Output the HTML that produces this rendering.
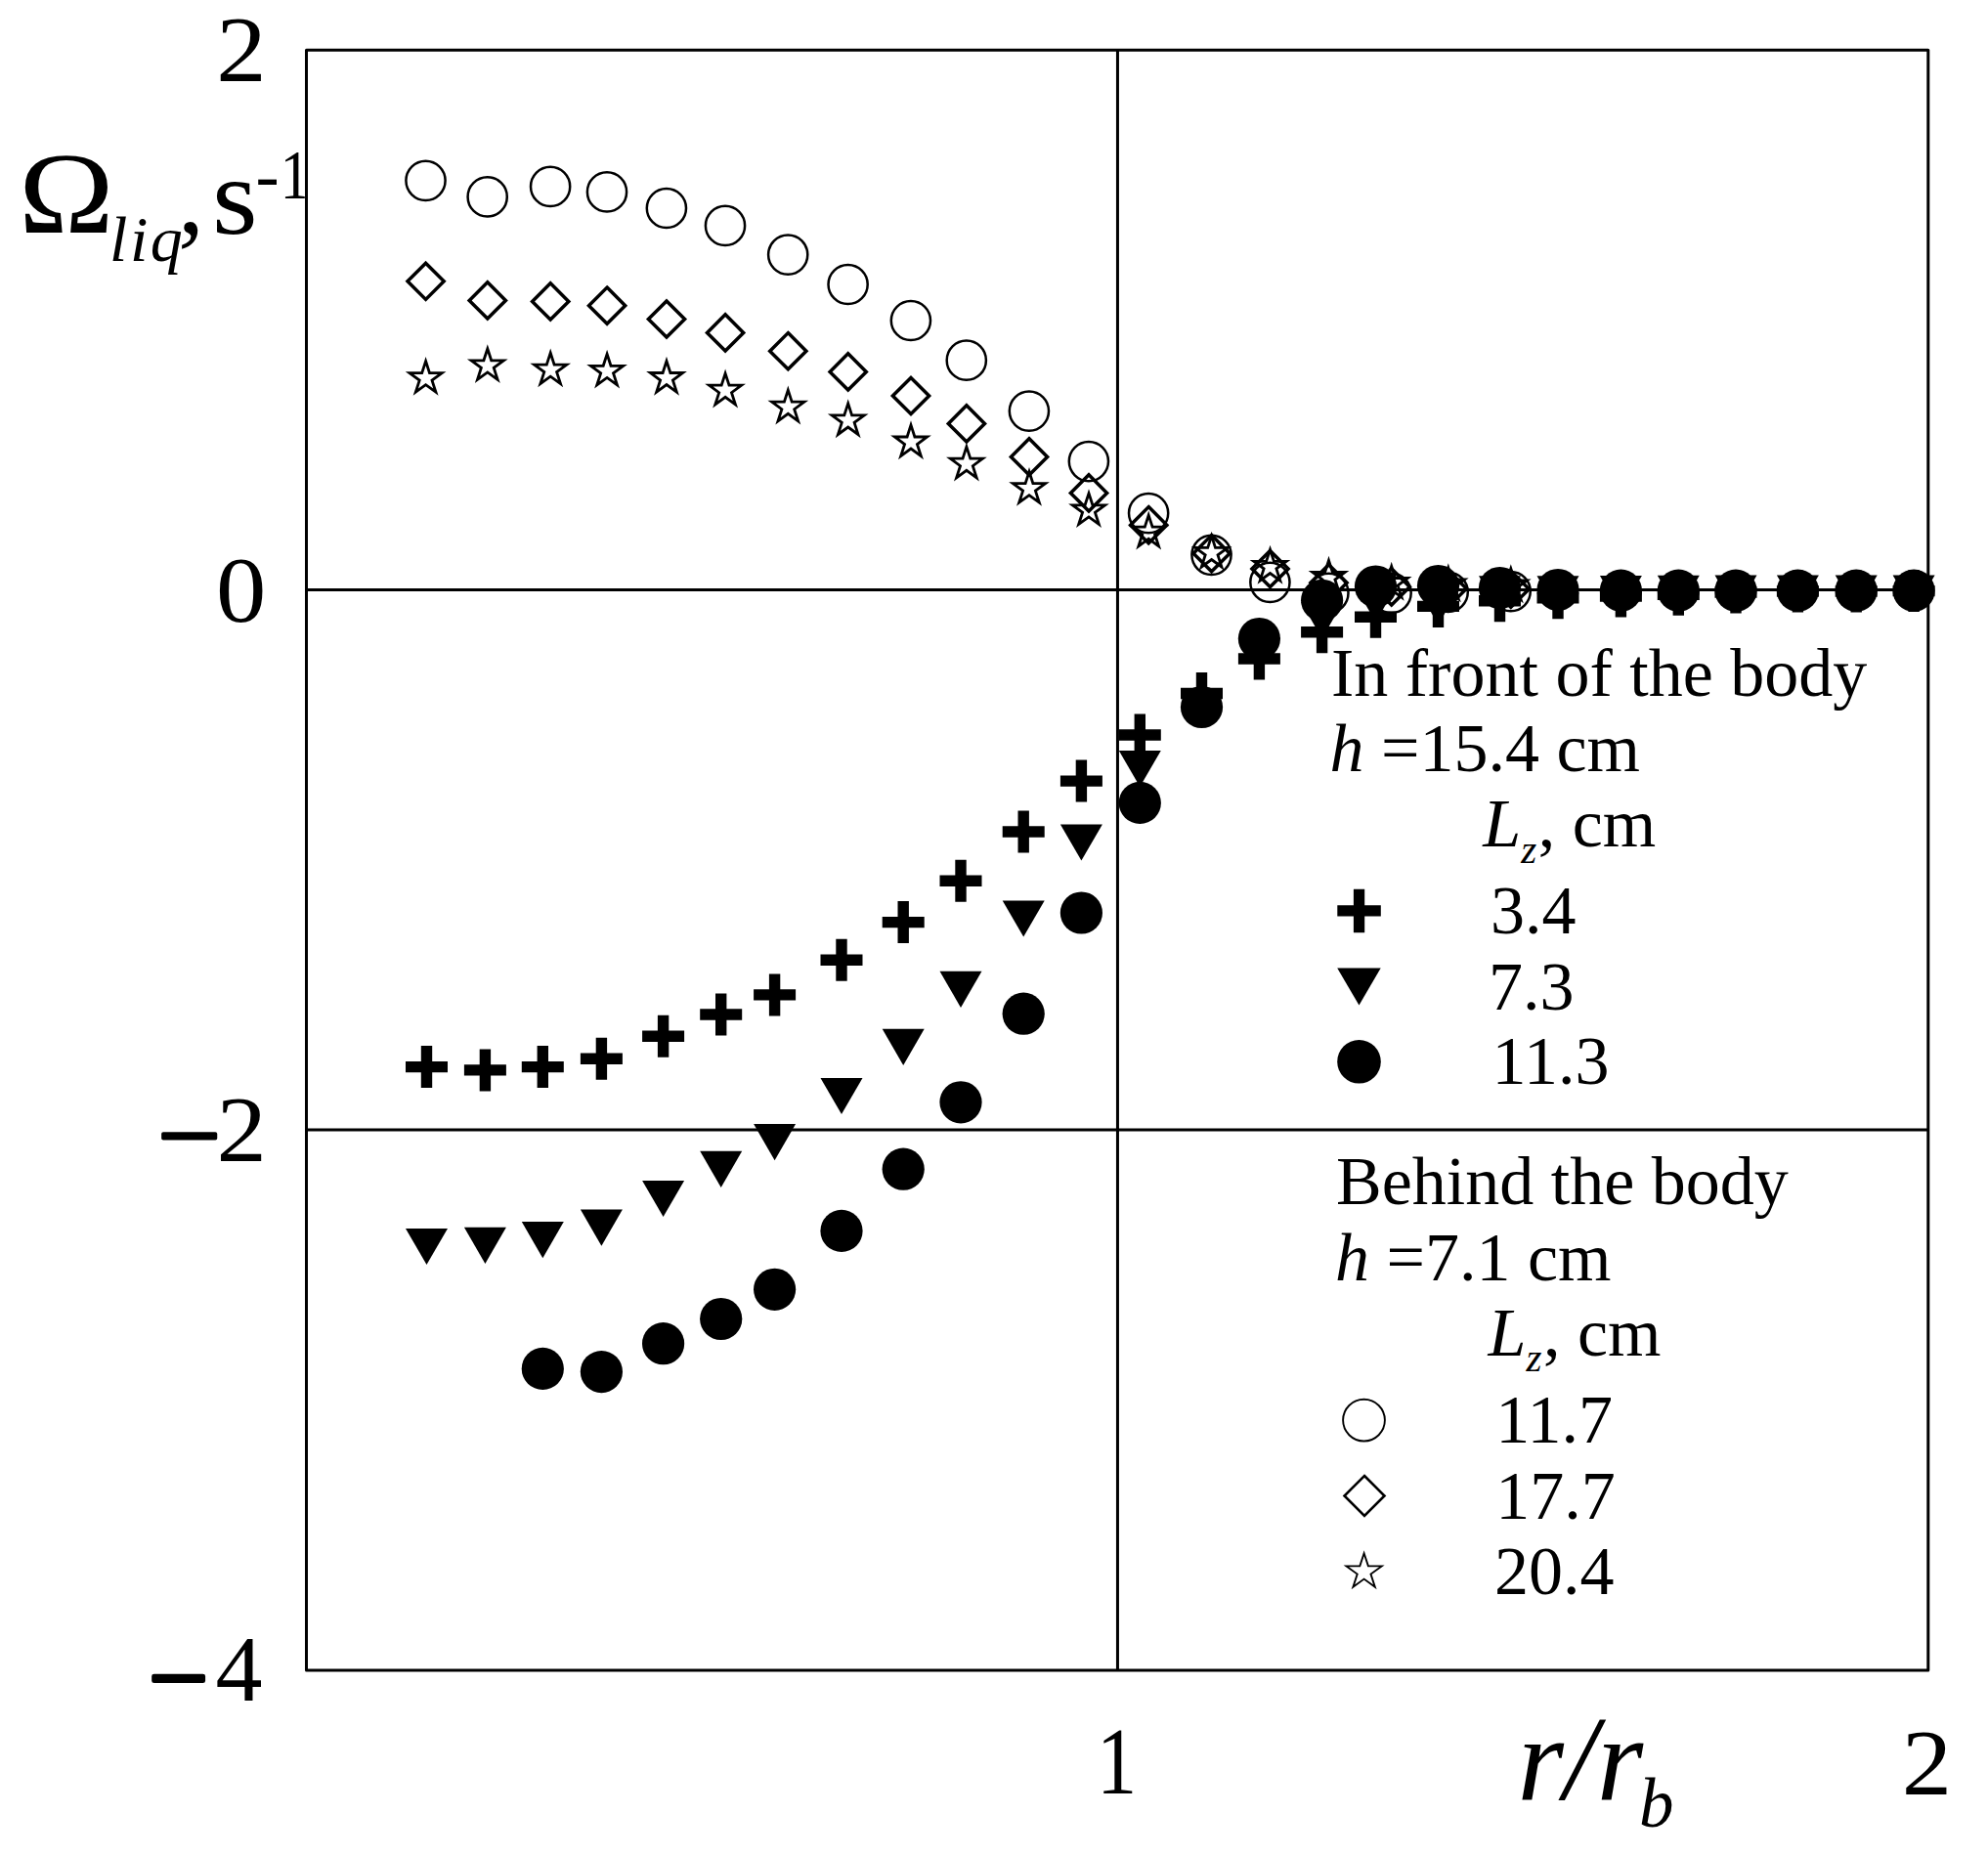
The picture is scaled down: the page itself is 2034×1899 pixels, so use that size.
<!DOCTYPE html>
<html><head><meta charset="utf-8"><title>Angular velocity of liquid</title>
<style>
html,body{margin:0;padding:0;background:#fff}
svg{display:block}
text{font-family:"Liberation Serif",serif;fill:#000}
.i{font-style:italic}
</style></head><body>
<svg width="2034" height="1899" viewBox="0 0 2034 1899">
<rect width="2034" height="1899" fill="#fff"/>

<g fill="none" stroke="#000" stroke-width="3.0" stroke-linejoin="round">
<rect x="313.5" y="51.3" width="1659.3" height="1657.7"/>
<path d="M1143.45 51.3V1709.0M313.5 603.6H1972.8M313.5 1156.0H1972.8"/>
</g>
<g fill="none" stroke="#000" stroke-width="2.5">
<circle cx="435.5" cy="184.8" r="20.1"/>
<circle cx="498.7" cy="201.4" r="20.1"/>
<circle cx="563.1" cy="190.9" r="20.1"/>
<circle cx="621.0" cy="196.4" r="20.1"/>
<circle cx="681.9" cy="213.0" r="20.1"/>
<circle cx="742.0" cy="230.9" r="20.1"/>
<circle cx="806.2" cy="260.6" r="20.1"/>
<circle cx="867.6" cy="291.0" r="20.1"/>
<circle cx="931.9" cy="328.0" r="20.1"/>
<circle cx="988.8" cy="368.7" r="20.1"/>
<circle cx="1052.9" cy="420.6" r="20.1"/>
<circle cx="1113.9" cy="472.1" r="20.1"/>
<circle cx="1175.1" cy="525.1" r="20.1"/>
<circle cx="1239.5" cy="567.8" r="20.1"/>
<circle cx="1299.4" cy="595.8" r="20.1"/>
<circle cx="1359.4" cy="606.8" r="20.1"/>
<circle cx="1423.6" cy="606.8" r="20.1"/>
<circle cx="1481.7" cy="605.8" r="20.1"/>
<circle cx="1545.7" cy="605.1" r="20.1"/>
</g>
<g fill="none" stroke="#000" stroke-width="3.5" stroke-linejoin="miter">
<path d="M435.6 269.2L454.2 287.8L435.6 306.4L417.0 287.8z"/>
<path d="M498.8 288.8L517.4 307.4L498.8 326.0L480.2 307.4z"/>
<path d="M563.2 289.8L581.8 308.4L563.2 327.0L544.6 308.4z"/>
<path d="M621.1 294.1L639.7 312.7L621.1 331.3L602.5 312.7z"/>
<path d="M682.0 307.9L700.6 326.5L682.0 345.1L663.4 326.5z"/>
<path d="M742.1 321.8L760.7 340.4L742.1 359.0L723.5 340.4z"/>
<path d="M806.3 340.6L824.9 359.2L806.3 377.8L787.7 359.2z"/>
<path d="M867.7 361.8L886.3 380.4L867.7 399.0L849.1 380.4z"/>
<path d="M932.0 386.4L950.6 405.0L932.0 423.6L913.4 405.0z"/>
<path d="M988.9 414.8L1007.5 433.4L988.9 452.0L970.3 433.4z"/>
<path d="M1053.0 448.8L1071.6 467.4L1053.0 486.0L1034.4 467.4z"/>
<path d="M1114.0 485.8L1132.6 504.4L1114.0 523.0L1095.4 504.4z"/>
<path d="M1175.2 518.6L1193.8 537.2L1175.2 555.8L1156.6 537.2z"/>
<path d="M1239.6 547.6L1258.2 566.2L1239.6 584.8L1221.0 566.2z"/>
<path d="M1299.5 563.4L1318.1 582.0L1299.5 600.6L1280.9 582.0z"/>
<path d="M1359.5 577.7L1378.1 596.3L1359.5 614.9L1340.9 596.3z"/>
<path d="M1423.7 581.8L1442.3 600.4L1423.7 619.0L1405.1 600.4z"/>
<path d="M1481.8 583.7L1500.4 602.3L1481.8 620.9L1463.2 602.3z"/>
<path d="M1545.8 584.2L1564.4 602.8L1545.8 621.4L1527.2 602.8z"/>
</g>
<g fill="none" stroke="#000" stroke-width="2.8" stroke-linejoin="miter" stroke-miterlimit="10">
<path d="M435.6 369.5L439.5 381.6L452.2 381.6L442.0 389.1L445.9 401.2L435.6 393.7L425.3 401.2L429.2 389.1L419.0 381.6L431.7 381.6z"/>
<path d="M498.8 356.7L502.7 368.8L515.4 368.8L505.2 376.3L509.1 388.4L498.8 380.9L488.5 388.4L492.4 376.3L482.2 368.8L494.9 368.8z"/>
<path d="M563.2 361.0L567.1 373.1L579.8 373.1L569.6 380.6L573.5 392.7L563.2 385.2L552.9 392.7L556.8 380.6L546.6 373.1L559.3 373.1z"/>
<path d="M621.1 362.2L625.0 374.3L637.7 374.3L627.5 381.8L631.4 393.9L621.1 386.4L610.8 393.9L614.7 381.8L604.5 374.3L617.2 374.3z"/>
<path d="M682.0 369.4L685.9 381.5L698.6 381.5L688.4 389.0L692.3 401.1L682.0 393.6L671.7 401.1L675.6 389.0L665.4 381.5L678.1 381.5z"/>
<path d="M742.1 382.1L746.0 394.2L758.7 394.2L748.5 401.7L752.4 413.8L742.1 406.3L731.8 413.8L735.7 401.7L725.5 394.2L738.2 394.2z"/>
<path d="M806.3 399.1L810.2 411.2L822.9 411.2L812.7 418.7L816.6 430.8L806.3 423.3L796.0 430.8L799.9 418.7L789.7 411.2L802.4 411.2z"/>
<path d="M867.7 412.8L871.6 424.9L884.3 424.9L874.1 432.4L878.0 444.5L867.7 437.0L857.4 444.5L861.3 432.4L851.1 424.9L863.8 424.9z"/>
<path d="M932.0 434.9L935.9 447.0L948.6 447.0L938.4 454.5L942.3 466.6L932.0 459.1L921.7 466.6L925.6 454.5L915.4 447.0L928.1 447.0z"/>
<path d="M988.9 457.1L992.8 469.2L1005.5 469.2L995.3 476.7L999.2 488.8L988.9 481.3L978.6 488.8L982.5 476.7L972.3 469.2L985.0 469.2z"/>
<path d="M1053.0 482.5L1056.9 494.6L1069.6 494.6L1059.4 502.1L1063.3 514.2L1053.0 506.7L1042.7 514.2L1046.6 502.1L1036.4 494.6L1049.1 494.6z"/>
<path d="M1114.0 504.7L1117.9 516.8L1130.6 516.8L1120.4 524.3L1124.3 536.4L1114.0 528.9L1103.7 536.4L1107.6 524.3L1097.4 516.8L1110.1 516.8z"/>
<path d="M1175.2 527.1L1179.1 539.2L1191.8 539.2L1181.6 546.7L1185.5 558.8L1175.2 551.3L1164.9 558.8L1168.8 546.7L1158.6 539.2L1171.3 539.2z"/>
<path d="M1239.6 548.3L1243.5 560.4L1256.2 560.4L1246.0 567.9L1249.9 580.0L1239.6 572.5L1229.3 580.0L1233.2 567.9L1223.0 560.4L1235.7 560.4z"/>
<path d="M1299.5 562.3L1303.4 574.4L1316.1 574.4L1305.9 581.9L1309.8 594.0L1299.5 586.5L1289.2 594.0L1293.1 581.9L1282.9 574.4L1295.6 574.4z"/>
<path d="M1359.5 573.4L1363.4 585.5L1376.1 585.5L1365.9 593.0L1369.8 605.1L1359.5 597.6L1349.2 605.1L1353.1 593.0L1342.9 585.5L1355.6 585.5z"/>
<path d="M1423.7 579.4L1427.6 591.5L1440.3 591.5L1430.1 599.0L1434.0 611.1L1423.7 603.6L1413.4 611.1L1417.3 599.0L1407.1 591.5L1419.8 591.5z"/>
<path d="M1481.8 580.9L1485.7 593.0L1498.4 593.0L1488.2 600.5L1492.1 612.6L1481.8 605.1L1471.5 612.6L1475.4 600.5L1465.2 593.0L1477.9 593.0z"/>
<path d="M1545.8 581.8L1549.7 593.9L1562.4 593.9L1552.2 601.4L1556.1 613.5L1545.8 606.0L1535.5 613.5L1539.4 601.4L1529.2 593.9L1541.9 593.9z"/>
</g>
<g fill="#000" stroke="none">
<path d="M430.8 1070.1h11.4v15.8h15.8v11.4h-15.8v15.8h-11.4v-15.8h-15.8v-11.4h15.8z"/>
<path d="M490.7 1073.4h11.4v15.8h15.8v11.4h-15.8v15.8h-11.4v-15.8h-15.8v-11.4h15.8z"/>
<path d="M549.6 1070.1h11.4v15.8h15.8v11.4h-15.8v15.8h-11.4v-15.8h-15.8v-11.4h15.8z"/>
<path d="M609.7 1061.8h11.4v15.8h15.8v11.4h-15.8v15.8h-11.4v-15.8h-15.8v-11.4h15.8z"/>
<path d="M672.9 1038.7h11.4v15.8h15.8v11.4h-15.8v15.8h-11.4v-15.8h-15.8v-11.4h15.8z"/>
<path d="M732.0 1016.5h11.4v15.8h15.8v11.4h-15.8v15.8h-11.4v-15.8h-15.8v-11.4h15.8z"/>
<path d="M786.9 996.4h11.4v15.8h15.8v11.4h-15.8v15.8h-11.4v-15.8h-15.8v-11.4h15.8z"/>
<path d="M855.3 960.7h11.4v15.8h15.8v11.4h-15.8v15.8h-11.4v-15.8h-15.8v-11.4h15.8z"/>
<path d="M918.5 922.1h11.4v15.8h15.8v11.4h-15.8v15.8h-11.4v-15.8h-15.8v-11.4h15.8z"/>
<path d="M977.3 879.8h11.4v15.8h15.8v11.4h-15.8v15.8h-11.4v-15.8h-15.8v-11.4h15.8z"/>
<path d="M1041.5 829.5h11.4v15.8h15.8v11.4h-15.8v15.8h-11.4v-15.8h-15.8v-11.4h15.8z"/>
<path d="M1100.7 777.6h11.4v15.8h15.8v11.4h-15.8v15.8h-11.4v-15.8h-15.8v-11.4h15.8z"/>
<path d="M1160.6 730.5h11.4v15.8h15.8v11.4h-15.8v15.8h-11.4v-15.8h-15.8v-11.4h15.8z"/>
<path d="M1223.8 688.0h11.4v15.8h15.8v11.4h-15.8v15.8h-11.4v-15.8h-15.8v-11.4h15.8z"/>
<path d="M1282.7 652.5h11.4v15.8h15.8v11.4h-15.8v15.8h-11.4v-15.8h-15.8v-11.4h15.8z"/>
<path d="M1346.9 625.3h11.4v15.8h15.8v11.4h-15.8v15.8h-11.4v-15.8h-15.8v-11.4h15.8z"/>
<path d="M1401.8 609.8h11.4v15.8h15.8v11.4h-15.8v15.8h-11.4v-15.8h-15.8v-11.4h15.8z"/>
<path d="M1465.8 598.9h11.4v15.8h15.8v11.4h-15.8v15.8h-11.4v-15.8h-15.8v-11.4h15.8z"/>
<path d="M1528.8 593.3h11.4v15.8h15.8v11.4h-15.8v15.8h-11.4v-15.8h-15.8v-11.4h15.8z"/>
<path d="M1588.3 590.2h11.4v15.8h15.8v11.4h-15.8v15.8h-11.4v-15.8h-15.8v-11.4h15.8z"/>
<path d="M1652.7 588.6h11.4v15.8h15.8v11.4h-15.8v15.8h-11.4v-15.8h-15.8v-11.4h15.8z"/>
<path d="M1711.6 586.7h11.4v15.8h15.8v11.4h-15.8v15.8h-11.4v-15.8h-15.8v-11.4h15.8z"/>
<path d="M1770.3 584.5h11.4v15.8h15.8v11.4h-15.8v15.8h-11.4v-15.8h-15.8v-11.4h15.8z"/>
<path d="M1833.7 583.5h11.4v15.8h15.8v11.4h-15.8v15.8h-11.4v-15.8h-15.8v-11.4h15.8z"/>
<path d="M1893.5 583.5h11.4v15.8h15.8v11.4h-15.8v15.8h-11.4v-15.8h-15.8v-11.4h15.8z"/>
<path d="M1952.4 583.1h11.4v15.8h15.8v11.4h-15.8v15.8h-11.4v-15.8h-15.8v-11.4h15.8z"/>
<path d="M415.0 1256.9h43.0L436.5 1294.1z"/>
<path d="M474.9 1255.7h43.0L496.4 1292.9z"/>
<path d="M533.8 1250.1h43.0L555.3 1287.3z"/>
<path d="M593.9 1237.6h43.0L615.4 1274.8z"/>
<path d="M657.1 1207.9h43.0L678.6 1245.1z"/>
<path d="M716.2 1177.7h43.0L737.7 1214.9z"/>
<path d="M771.1 1150.0h43.0L792.6 1187.2z"/>
<path d="M839.5 1102.9h43.0L861.0 1140.1z"/>
<path d="M902.7 1052.8h43.0L924.2 1090.0z"/>
<path d="M961.5 993.7h43.0L983.0 1030.9z"/>
<path d="M1025.7 921.4h43.0L1047.2 958.6z"/>
<path d="M1084.9 843.4h43.0L1106.4 880.6z"/>
<path d="M1144.8 767.9h43.0L1166.3 805.1z"/>
<path d="M1208.0 704.0h43.0L1229.5 741.2z"/>
<path d="M1266.9 652.0h43.0L1288.4 689.2z"/>
<path d="M1331.1 616.0h43.0L1352.6 653.2z"/>
<path d="M1386.0 599.2h43.0L1407.5 636.4z"/>
<path d="M1450.0 602.0h43.0L1471.5 639.2z"/>
<path d="M1513.0 589.2h43.0L1534.5 626.4z"/>
<path d="M1572.5 589.2h43.0L1594.0 626.4z"/>
<path d="M1636.9 589.0h43.0L1658.4 626.2z"/>
<path d="M1695.8 588.8h43.0L1717.3 626.0z"/>
<path d="M1754.5 588.6h43.0L1776.0 625.8z"/>
<path d="M1817.9 588.5h43.0L1839.4 625.7z"/>
<path d="M1877.7 588.5h43.0L1899.2 625.7z"/>
<path d="M1936.6 588.5h43.0L1958.1 625.7z"/>
<circle cx="555.3" cy="1400.4" r="21.6"/>
<circle cx="615.4" cy="1403.6" r="21.6"/>
<circle cx="678.6" cy="1374.7" r="21.6"/>
<circle cx="737.7" cy="1349.5" r="21.6"/>
<circle cx="792.6" cy="1319.3" r="21.6"/>
<circle cx="861.0" cy="1259.4" r="21.6"/>
<circle cx="924.2" cy="1196.2" r="21.6"/>
<circle cx="983.0" cy="1127.8" r="21.6"/>
<circle cx="1047.2" cy="1037.2" r="21.6"/>
<circle cx="1106.4" cy="934.0" r="21.6"/>
<circle cx="1166.3" cy="821.4" r="21.6"/>
<circle cx="1229.5" cy="723.5" r="21.6"/>
<circle cx="1288.4" cy="653.5" r="21.6"/>
<circle cx="1352.6" cy="614.3" r="21.6"/>
<circle cx="1407.5" cy="600.0" r="21.6"/>
<circle cx="1471.5" cy="599.5" r="21.6"/>
<circle cx="1534.5" cy="601.5" r="21.6"/>
<circle cx="1594.0" cy="603.5" r="21.6"/>
<circle cx="1658.4" cy="604.2" r="21.6"/>
<circle cx="1717.3" cy="604.2" r="21.6"/>
<circle cx="1776.0" cy="604.2" r="21.6"/>
<circle cx="1839.4" cy="604.2" r="21.6"/>
<circle cx="1899.2" cy="604.2" r="21.6"/>
<circle cx="1958.1" cy="604.2" r="21.6"/>
</g>
<g fill="#000" stroke="none">
<path d="M1384.9 909.7h11.3v16.6h16.6v11.3h-16.6v16.6h-11.3v-16.6h-16.6v-11.3h16.6z"/>
<path d="M1368.2 990.5h44.5L1390.5 1028.5z"/>
<circle cx="1390.5" cy="1086.3" r="22.3"/>
</g>
<g fill="none" stroke="#000">
<g stroke-width="1.9"><circle cx="1395.5" cy="1453.1" r="21.4"/></g>
<g stroke-width="2.6"><path d="M1396.0 1510.0L1416.5 1530.5L1396.0 1551.0L1375.5 1530.5z"/></g>
<g stroke-width="1.9" stroke-miterlimit="10"><path d="M1395.6 1589.3L1399.9 1602.4L1413.7 1602.4L1402.5 1610.5L1406.8 1623.7L1395.6 1615.6L1384.4 1623.7L1388.7 1610.5L1377.5 1602.4L1391.3 1602.4z"/></g>
</g>
<text transform="translate(272.5 83.2) scale(1.07 1)" font-size="96" text-anchor="end">2</text>
<text transform="translate(272.3 635.6) scale(1.07 1)" font-size="96" text-anchor="end">0</text>
<text transform="translate(272.8 1188) scale(1.07 1)" font-size="96" text-anchor="end">2</text>
<text transform="translate(268.6 1740.3) scale(1.0 1)" font-size="96" text-anchor="end">4</text>
<g stroke="#000" stroke-width="3.3" stroke-linejoin="round">
<text transform="translate(161.2 1194) scale(1.19 1)" font-size="96" text-anchor="start">−</text>
</g><g stroke="#000" stroke-width="4.6" stroke-linejoin="round">
<text transform="translate(152.3 1748.5) scale(1.115 1)" font-size="96" text-anchor="start">−</text>
</g>
<text transform="translate(1142.5 1835.3) scale(0.85 1)" font-size="97" text-anchor="middle">1</text>
<text transform="translate(1971.5 1835.5) scale(1.07 1)" font-size="96" text-anchor="middle">2</text>
<clipPath id="cl"><rect x="0" y="0" width="311.8" height="400"/></clipPath>
<text transform="translate(19 238) scale(1.115 1)" font-size="118" text-anchor="start">Ω</text>
<text x="112" y="267" font-size="66" class="i" letter-spacing="2.6">liq</text>
<text x="182" y="238" font-size="108">,</text>
<text transform="translate(217 238.5) scale(1.06 1)" font-size="113" text-anchor="start">s</text>
<g clip-path="url(#cl)"><text x="261.5" y="202.7" font-size="72.5">-</text><text transform="translate(286.6 202.7) scale(0.85 1)" font-size="72.5" text-anchor="start">1</text></g>
<text x="1552.5" y="1841" font-size="122" class="i">r/r</text>
<text x="1677" y="1869.3" font-size="71" class="i">b</text>
<g font-size="70">
<text x="1362" y="711.5">In front of the body</text>
<text x="1360.5" y="789"><tspan class="i">h</tspan> =15.4 cm</text>
<text x="1517.3" y="866"><tspan class="i">L</tspan><tspan class="i" font-size="41" dy="16.5">z</tspan><tspan dy="-16.5" dx="1.5">, cm</tspan></text>
<text x="1525" y="954.5">3.4</text>
<text x="1523" y="1032.5">7.3</text>
<text x="1526.5" y="1108.5">11.3</text>
<text x="1367" y="1231.5">Behind the body</text>
<text x="1366" y="1309.5"><tspan class="i">h</tspan> =7.1 cm</text>
<text x="1522.5" y="1386.5"><tspan class="i">L</tspan><tspan class="i" font-size="41" dy="16.5">z</tspan><tspan dy="-16.5" dx="1.5">, cm</tspan></text>
<text x="1530.2" y="1475.5">11.7</text>
<text x="1530.2" y="1553.5">17.7</text>
<text x="1529" y="1630.5">20.4</text>
</g>
</svg></body></html>
